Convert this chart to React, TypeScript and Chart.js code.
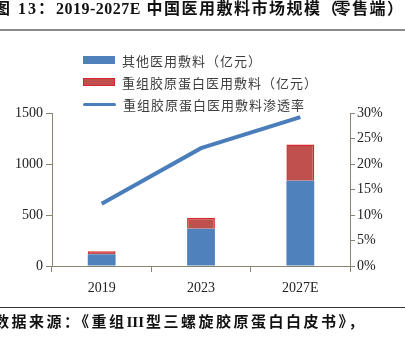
import React, { useEffect, useRef } from "react";
import { Chart, registerables } from "chart.js";

Chart.register(...registerables);

const years = ["2019", "2023", "2027E"];
const otherDressing = [115, 364, 837];
const collagenDressing = [29, 110, 355];
const penetrationRate = [12.2, 23.1, 29.2];
const leftTicks = [0, 500, 1000, 1500];
const rightTicks = [0, 5, 10, 15, 20, 25, 30];

const legendLabels = [
  "其他医用敷料（亿元）",
  "重组胶原蛋白医用敷料（亿元）",
  "重组胶原蛋白医用敷料渗透率",
];
const titlePrefix = "图 13：";
const titleYears = "2019-2027E";
const titleMain = " 中国医用敷料市场规模";
const titleSub = "零售端";
const sourceParts = ["数据来源：《重组", "III", "型三螺旋胶原蛋白白皮书》，"];

const BLUE = "#4f81bd";
const RED = "#c0504d";
const RED_BORDER = "#d9262b";
const LINE_BLUE = "#4a7ebb";
const AXIS = "#8a8372";
const TICK_FONT = { family: "'Liberation Serif', 'Times New Roman', serif", size: 14 };

export default function App() {
  const ref = useRef<HTMLCanvasElement | null>(null);

  useEffect(() => {
    if (!ref.current) return;
    const chart = new Chart(ref.current, {
      type: "bar",
      data: {
        labels: years,
        datasets: [
          {
            type: "line",
            label: legendLabels[2],
            data: penetrationRate,
            yAxisID: "y1",
            borderColor: LINE_BLUE,
            backgroundColor: LINE_BLUE,
            borderWidth: 4,
            pointRadius: 0,
            tension: 0,
            order: 0,
          } as any,
          {
            label: legendLabels[0],
            data: otherDressing,
            yAxisID: "y",
            backgroundColor: BLUE,
            borderWidth: 0,
            barPercentage: 0.28,
            categoryPercentage: 1,
            order: 1,
          },
          {
            label: legendLabels[1],
            data: collagenDressing,
            yAxisID: "y",
            backgroundColor: RED,
            borderColor: RED_BORDER,
            borderWidth: 1.5,
            barPercentage: 0.28,
            categoryPercentage: 1,
            order: 1,
          },
        ],
      },
      options: {
        responsive: false,
        animation: false,
        layout: { padding: { left: 0, right: 0, top: 113, bottom: 0 } },
        plugins: { legend: { display: false }, tooltip: { enabled: false }, title: { display: false } },
        scales: {
          x: {
            stacked: true,
            grid: { drawOnChartArea: false, drawTicks: true, tickLength: 6, color: AXIS, offset: true },
            border: { color: AXIS, width: 1 },
            ticks: { color: "#222", font: TICK_FONT, padding: 8 },
            afterFit: (s: any) => { s.height = 80; },
          },
          y: {
            stacked: true,
            position: "left",
            min: 0,
            max: 1500,
            afterBuildTicks: (s: any) => { s.ticks = leftTicks.map((v) => ({ value: v })); },
            grid: { drawOnChartArea: false, tickLength: 6, color: AXIS },
            border: { color: AXIS, width: 1 },
            ticks: { color: "#222", font: TICK_FONT, padding: 3, callback: (v: any) => String(v) },
            afterFit: (s: any) => { s.width = 52; },
          },
          y1: {
            stacked: false,
            position: "right",
            min: 0,
            max: 30,
            afterBuildTicks: (s: any) => { s.ticks = rightTicks.map((v) => ({ value: v })); },
            grid: { drawOnChartArea: false, tickLength: 5, color: AXIS },
            border: { color: AXIS, width: 1 },
            ticks: { color: "#222", font: TICK_FONT, padding: 2, callback: (v: any) => v + "%" },
            afterFit: (s: any) => { s.width = 55; },
          },
        },
      },
    });
    return () => chart.destroy();
  }, []);

  const cjk = "'Liberation Serif', 'Noto Sans CJK SC', serif";

  return (
    <div style={{ position: "absolute", left: 0, top: 0, width: 405, height: 346, overflow: "hidden", background: "#fff" }}>
      <canvas ref={ref} width={405} height={346} style={{ position: "absolute", left: 0, top: 0 }} />
      <div
        style={{
          position: "absolute", left: -6, top: 0, whiteSpace: "nowrap", fontFamily: cjk,
          fontWeight: "bold", fontSize: 16, lineHeight: "18px", color: "#111",
        }}
      >
        <span style={{ letterSpacing: 2 }}>{titlePrefix}</span>
        <span style={{ letterSpacing: 0.5 }}>{titleYears}</span>
        <span style={{ letterSpacing: 1.5 }}>{titleMain}</span>
        <span style={{ letterSpacing: -3 }}>（</span>
        <span style={{ letterSpacing: 1.5 }}>{titleSub}</span>
        <span>）</span>
      </div>
      <div style={{ position: "absolute", left: 0, top: 29, width: 405, height: 2, background: "#8a8a8a" }} />
      <div style={{ position: "absolute", left: 83, top: 49 }}>
        {legendLabels.map((lbl, i) => (
          <div key={i} style={{ display: "flex", alignItems: "center", height: 22 }}>
            {i < 2 ? (
              <div
                style={{
                  width: 32, height: 8, boxSizing: "border-box",
                  background: i === 0 ? BLUE : RED,
                  border: i === 1 ? `1.5px solid ${RED_BORDER}` : "none",
                }}
              />
            ) : (
              <div style={{ width: 33, height: 3, borderRadius: 2, background: LINE_BLUE }} />
            )}
            <span
              style={{
                marginLeft: 7, fontFamily: "'Noto Sans CJK SC', sans-serif", fontSize: 13,
                letterSpacing: 1, color: "#404040", whiteSpace: "nowrap",
              }}
            >
              {lbl}
            </span>
          </div>
        ))}
      </div>
      <div style={{ position: "absolute", left: 0, top: 307, width: 405, height: 1, background: "#333" }} />
      <div
        style={{
          position: "absolute", left: -6, top: 313, whiteSpace: "nowrap", fontFamily: cjk,
          fontWeight: "bold", fontSize: 15, lineHeight: "18px", color: "#111", letterSpacing: 2.5,
        }}
      >
        <span>{sourceParts[0]}</span>
        <span style={{ letterSpacing: 0 }}>{sourceParts[1]}</span>
        <span style={{ marginLeft: 2 }}>{sourceParts[2]}</span>
      </div>
    </div>
  );
}
